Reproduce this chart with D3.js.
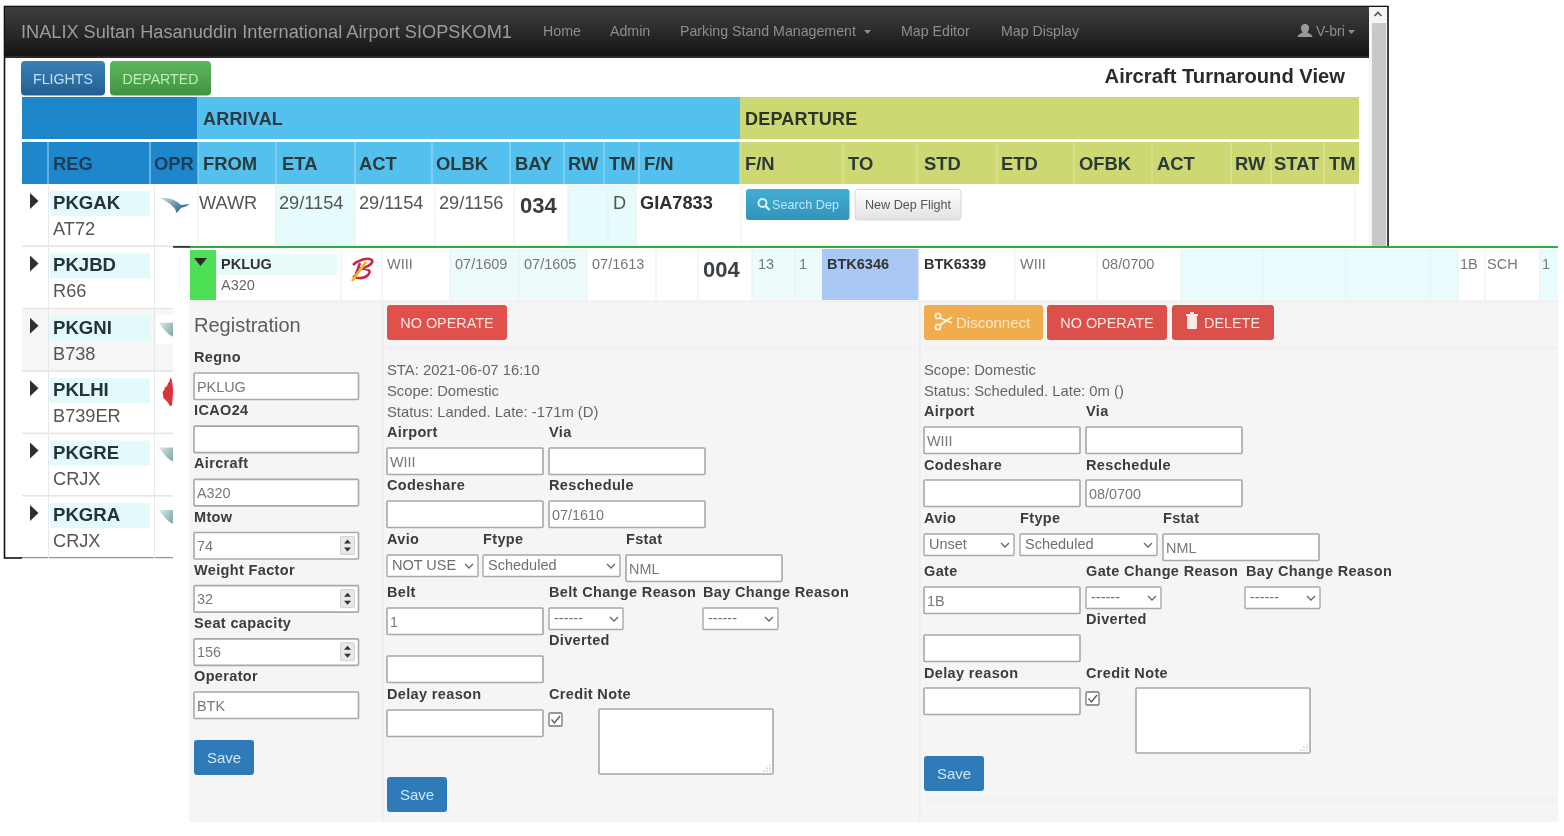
<!DOCTYPE html>
<html>
<head>
<meta charset="utf-8">
<script src="https://d3js.org/d3.v7.min.js"></script>
<style>
	html, body { margin: 0; padding: 0; background: #fff; }
	svg { display: block; filter: blur(0.35px); font-family: "Liberation Sans", Arial, sans-serif; }
</style>
</head>
<body>
<div id="chart-area"></div>
<script>

// Data

var brand = "INALIX Sultan Hasanuddin International Airport SIOPSKOM1";
var navLinks = ["Home", "Admin", "Parking Stand Management", "Map Editor", "Map Display"];
var userName = "V-bri";
var tabs = ["FLIGHTS", "DEPARTED"];
var viewTitle = "Aircraft Turnaround View";
var groupHeaders = ["ARRIVAL", "DEPARTURE"];
var columns = ["", "REG", "OPR", "FROM", "ETA", "ACT", "OLBK", "BAY", "RW", "TM", "F/N",
	"F/N", "TO", "STD", "ETD", "OFBK", "ACT", "RW", "STAT", "TM"];

var registrations = ["PKGAK", "PKJBD", "PKGNI", "PKLHI", "PKGRE", "PKGRA"];
var aircraftTypes = ["AT72", "R66", "B738", "B739ER", "CRJX", "CRJX"];
var firstRowValues = ["WAWR", "29/1154", "29/1154", "29/1156", "034", "", "D", "GIA7833"];
var firstRowButtons = ["Search Dep", "New Dep Flight"];

var openReg = "PKLUG";
var openType = "A320";
var openRowValues = ["WIII", "07/1609", "07/1605", "07/1613", "", "004", "13", "1", "BTK6346",
	"BTK6339", "WIII", "08/0700", "1B", "SCH", "1"];

var regTitle = "Registration";
var regLabels = ["Regno", "ICAO24", "Aircraft", "Mtow", "Weight Factor", "Seat capacity", "Operator"];
var regValues = ["PKLUG", "", "A320", "74", "32", "156", "BTK"];
var regSpinners = [false, false, false, true, true, true, false];

var arrInfo = ["STA: 2021-06-07 16:10", "Scope: Domestic", "Status: Landed. Late: -171m (D)"];
var depInfo = ["Scope: Domestic", "Status: Scheduled. Late: 0m ()"];

var arrLabels = ["Airport", "Via", "Codeshare", "Reschedule", "Avio", "Ftype", "Fstat", "Belt",
	"Belt Change Reason", "Bay Change Reason", "Diverted", "Delay reason", "Credit Note"];
var arrInputs = ["WIII", "", "", "07/1610", "NML", "1", "", ""];
var arrSelects = ["NOT USE", "Scheduled", "------", "------"];

var depLabels = ["Airport", "Via", "Codeshare", "Reschedule", "Avio", "Ftype", "Fstat", "Gate",
	"Gate Change Reason", "Bay Change Reason", "Diverted", "Delay reason", "Credit Note"];
var depInputs = ["WIII", "", "", "08/0700", "NML", "1B", "", ""];
var depSelects = ["Unset", "Scheduled", "------", "------"];

var buttonsArr = ["NO OPERATE"];
var buttonsDep = ["Disconnect", "NO OPERATE", "DELETE"];
var saveLabel = "Save";

// Layout scales

var width = 1564,
	height = 836;

var colEdge = d3.scaleOrdinal()
	.domain(d3.range(columns.length + 1))
	.range([22, 48, 150, 198, 276, 355, 432, 510, 564, 604, 639, 740, 843, 917, 997, 1074, 1152, 1231, 1271, 1324, 1359]);

var colText = d3.scaleOrdinal()
	.domain(d3.range(columns.length))
	.range([22, 53, 154, 203, 282, 359, 436, 515, 568, 609, 644, 745, 848, 924, 1001, 1079, 1157, 1235, 1274, 1329]);

var rowTop = d3.scaleLinear().domain([0, 5]).range([185, 497]);

var firstRowX = d3.scaleOrdinal().domain(d3.range(8)).range([199, 279, 359, 439, 520, 570, 613, 640]);

var openX = d3.scaleOrdinal()
	.domain(d3.range(openRowValues.length))
	.range([387, 455, 524, 592, 660, 703, 758, 799, 827, 924, 1020, 1102, 1460, 1487, 1542]);

var regTop = d3.scaleLinear().domain([0, 6]).range([373, 692]);

// Pixel positions of the form items, kept apart from the values above

var arrLabelAt = [[387, 437], [549, 437], [387, 490], [549, 490], [387, 544], [483, 544], [626, 544],
	[387, 597], [549, 597], [703, 597], [549, 645], [387, 699], [549, 699]];
var arrInputAt = [[387, 448], [549, 448], [387, 501], [549, 501], [626, 555], [387, 608], [387, 656], [387, 710]];
var arrSelectAt = [[387, 555, 91], [483, 555, 137], [549, 608, 74], [703, 608, 75]];

var depLabelAt = [[924, 416], [1086, 416], [924, 470], [1086, 470], [924, 523], [1020, 523], [1163, 523],
	[924, 576], [1086, 576], [1246, 576], [1086, 624], [924, 678], [1086, 678]];
var depInputAt = [[924, 427], [1086, 427], [924, 480], [1086, 480], [1163, 534], [924, 587], [924, 635], [924, 688]];
var depSelectAt = [[924, 534, 90], [1020, 534, 137], [1086, 587, 75], [1245, 587, 75]];

var svg = d3.select("#chart-area").append("svg")
	.attr("width", width)
	.attr("height", height);

var defs = svg.append("defs");

function gradient(id, top, bottom, x2, y2) {
	var g = defs.append("linearGradient").attr("id", id)
		.attr("x1", 0).attr("y1", 0)
		.attr("x2", x2 || 0).attr("y2", y2 === undefined ? 1 : y2);
	g.append("stop").attr("offset", "0%").attr("stop-color", top);
	g.append("stop").attr("offset", "100%").attr("stop-color", bottom);
}
gradient("navGrad", "#3f3f3f", "#141414");
gradient("blueTab", "#3a80b8", "#235f91");
gradient("greenTab", "#5cb85c", "#429142");
gradient("searchGrad", "#44add4", "#3093ba");
gradient("newGrad", "#ffffff", "#e2e2e2");
gradient("garudaGrad", "#d5dfe3", "#17607f", 1, 0.6);
gradient("wingGrad", "#dfeaea", "#86b0b0", 1, 0.6);

function box(x0, y0, x1, y1, fill, r, stroke, sw) {
	return svg.append("rect")
		.attr("x", x0).attr("y", y0)
		.attr("width", x1 - x0).attr("height", y1 - y0)
		.attr("rx", r || 0)
		.attr("fill", fill)
		.attr("stroke", stroke || "none")
		.attr("stroke-width", sw || 0);
}

function label(x, y, str, size, color, weight, spacing, anchor) {
	return svg.append("text")
		.attr("x", x).attr("y", y)
		.attr("font-size", size)
		.attr("fill", color)
		.attr("font-weight", weight || "normal")
		.attr("letter-spacing", spacing || 0)
		.attr("text-anchor", anchor || "start")
		.text(str);
}

function vline(x, y0, y1, color) {
	box(x - 0.5, y0, x + 0.5, y1, color);
}

function poly(d, fill) {
	return svg.append("path").attr("d", d).attr("fill", fill);
}

function formLabel(at, str) {
	label(at[0], at[1], str, 14.5, "#3c3c3c", "bold", 0.35);
}

function inputBox(x, y, w, h, val) {
	box(x, y, x + w, y + h, "#fff", 1, "#a8a8a8", 1.6);
	if (val) label(x + 3, y + 18.5, val, 14.4, "#777");
}

function selectBox(at, val) {
	box(at[0], at[1], at[0] + at[2], at[1] + 21.5, "#fff", 1, "#a8a8a8", 1.4);
	label(at[0] + 5, at[1] + 15, val, 14.5, "#6f6f6f");
	var cx = at[0] + at[2] - 9, cy = at[1] + 11;
	svg.append("path")
		.attr("d", "M" + (cx - 4) + "," + (cy - 2) + "L" + cx + "," + (cy + 2) + "L" + (cx + 4) + "," + (cy - 2))
		.attr("fill", "none").attr("stroke", "#666").attr("stroke-width", 1.3);
}

function checkBox(x, y) {
	box(x, y, x + 13, y + 13, "#fff", 1, "#777", 1.3);
	svg.append("path")
		.attr("d", "M" + (x + 2.5) + "," + (y + 6.5) + "L" + (x + 5.5) + "," + (y + 10) + "L" + (x + 11) + "," + (y + 3))
		.attr("fill", "none").attr("stroke", "#555").attr("stroke-width", 1.3);
}

function textArea(x, y, w, h) {
	box(x, y, x + w, y + h, "#fff", 1, "#a8a8a8", 1.6);
	svg.selectAll(null)
		.data([[9, 3], [6, 6], [3, 9], [9, 6], [6, 9], [9, 9]])
		.enter().append("circle")
		.attr("cx", function(d) { return x + w - 12 + d[0]; })
		.attr("cy", function(d) { return y + h - 12 + d[1]; })
		.attr("r", 0.6).attr("fill", "#888");
}

function spinner(x, y) {
	box(x, y, x + 14, y + 18, "#e8e8e8", 1, "#c8c8c8", 0.8);
	poly("M" + (x + 7) + "," + (y + 3) + "l3.5,4h-7z", "#333");
	poly("M" + (x + 7) + "," + (y + 15) + "l3.5,-4h-7z", "#333");
}

function actionButton(x0, x1, y0, str, fill) {
	box(x0, y0, x1, y0 + 35, fill, 3);
	label((x0 + x1) / 2, y0 + 23, str, 14.4, "#fde8e6", "normal", 0, "middle");
}

function saveButton(x, y) {
	box(x, y, x + 60, y + 35, "#2f7ab8", 3);
	label(x + 30, y + 23, saveLabel, 15, "#cfe6f7", "normal", 0, "middle");
}

// Browser window behind the open row

box(4.5, 6.5, 1388, 558, "#fff", 0, "#111", 1.6);

// Scrollbar
box(1369, 7, 1387, 246, "#f4f4f4");
box(1372, 23, 1386, 246, "#c8c8c8");
svg.append("path").attr("d", "M1374.5,16L1378,12.5L1381.5,16")
	.attr("fill", "none").attr("stroke", "#555").attr("stroke-width", 1.6);

// Navbar
box(5, 7, 1369, 57, "url(#navGrad)");
box(5, 56, 1369, 58, "#2a2a2a");
label(21, 38, brand, 18.18, "#9c9c9c");

var navX = d3.scaleOrdinal().domain(navLinks).range([543, 610, 680, 901, 1001]);
navLinks.forEach(function(d) {
	label(navX(d), 36, d, 14.2, "#8e8e8e");
});
poly("M864,30h7l-3.5,4z", "#8e8e8e");

// User glyph and dropdown caret
poly("M1305,24c3,0 4.5,2.5 4,5c-.3,1.6-1.2,2.8-1.6,3.6c1,1 5,1.6 5,4.4h-14.8c0-2.8 4-3.4 5-4.4c-.4-.8-1.3-2-1.6-3.6c-.5-2.5 1-5 4-5z", "#999");
label(1316, 36, userName, 14, "#8e8e8e");
poly("M1348,30h7l-3.5,4z", "#8e8e8e");

// Tabs and title
box(21, 61, 105, 95.5, "url(#blueTab)", 4);
label(63, 84, tabs[0], 14.2, "#bfe0f5", "normal", 0, "middle");
box(110, 61, 211, 95.5, "url(#greenTab)", 4);
label(160.5, 84, tabs[1], 14.2, "#bff0b8", "normal", 0, "middle");
label(1345, 83, viewTitle, 20.2, "#2b2b2b", "bold", 0, "end");

// Table header
box(22, 97, 197.5, 139, "#1e87cb");
box(197.5, 97, 740, 139, "#53c0ee");
box(740, 97, 1359, 139, "#cdd873");
label(203, 125, groupHeaders[0], 18, "#2c3a44", "bold", 0.2);
label(745, 125, groupHeaders[1], 18, "#2c3428", "bold", 0.2);

columns.forEach(function(d, i) {
	var x0 = colEdge(i), x1 = colEdge(i + 1);
	var fill = i < 3 ? "#1e87cb" : (i < 11 ? "#53c0ee" : "#cdd873");
	box(x0, 142, x1, 184, fill);
	if (i > 0) vline(x0, 142, 184, i < 11 ? "#a9dcf3" : "#dde5a6");
	if (d) label(colText(i), 169.5, d, 18.4, i < 3 ? "#1d3f55" : "#2c3a3c", "bold", 0);
});

// Table rows
registrations.forEach(function(d, i) {
	var top = rowTop(i);
	if (i === 2) box(22, top - 0.5, 1358, top + 62, "#f6f6f6");
	box(22, top + 60.5, 1358, top + 62, "#e4e4e4");
	vline(48.5, top, top + 62, "#e8e8e8");
	vline(154.5, top, top + 62, "#e8e8e8");
	box(50, top + 6, 150, top + 31, "#e3fafb");
	poly("M30," + (top + 8) + "l8.5,8l-8.5,8z", "#2f2f2f");
	label(53, top + 24, d, 18.6, "#263238", "bold");
	label(53, top + 50, aircraftTypes[i], 18.2, "#555");
	// Tail logo, clipped by the open row further along
	if (i > 1 && i !== 3) {
		box(156, top + 5, 173, top + 34, "#fff");
		poly("M159," + (top + 13) + "h14v14c-5,-2 -10,-8 -14,-14z", "url(#wingGrad)");
	}
	if (i === 3) {
		poly("M171," + (top + 5) + "c-2,3 -1,5 -3,6c-1,2 0,3 -3,4c-1,2 0,3 -2,4c-1,3 1,4 0,6c2,3 5,4 7,9l2,-1c1,-10 2,-18 -1,-28z", "#d9343c");
	}
});

// First row cells
box(275.5, 185, 355, 245, "#e6fbfc");
box(568, 185, 608, 245, "#e6fbfc");
box(608, 185, 636, 245, "#e6fbfc");
[198, 275.5, 355, 435, 514, 568, 608, 636, 741, 1355].forEach(function(x) {
	vline(x, 185, 245, "#eeeeee");
});
firstRowValues.forEach(function(d, i) {
	if (i === 4) label(firstRowX(i), 213, d, 22, "#3a3a3a", "bold");
	else if (i === 7) label(firstRowX(i), 209, d, 18.2, "#2f2f2f", "bold");
	else label(firstRowX(i), 209, d, 18.2, "#555");
});

// Garuda logo
poly("M160,198c8,-1 16,2 21,7c3,0 6,-1 9,-1c-3,2 -6,3 -9,4c-2,2 -3,4 -5,5c0,-3 -1,-5 -3,-6c-3,-4 -8,-6 -13,-9z", "url(#garudaGrad)");

// Search and new flight buttons
box(746, 189, 849.5, 220, "url(#searchGrad)", 3);
svg.append("circle").attr("cx", 762.5).attr("cy", 203).attr("r", 4).attr("fill", "none").attr("stroke", "#d6f0fa").attr("stroke-width", 2);
svg.append("path").attr("d", "M765.5,206l4,4").attr("stroke", "#d6f0fa").attr("stroke-width", 2.4);
label(772, 209, firstRowButtons[0], 12.7, "#bfe6f5");
box(855, 189.5, 961, 220, "url(#newGrad)", 3, "#d6d6d6", 1);
label(908, 209, firstRowButtons[1], 12.6, "#555", "normal", 0, "middle");

// Open row panel sits on top of the table
box(173, 246, 1564, 836, "#fff");
box(173, 246, 1558, 248, "#35a945");
box(173, 246, 190, 247.5, "#333");
box(189, 302, 1558, 822, "#f5f5f5");
box(382, 302, 383.5, 822, "#ececec");
box(919, 302, 920.5, 822, "#ececec");
box(189, 300.5, 1558, 302, "#ececec");

// Open row cells
box(190, 250, 216, 300, "#4de056");
poly("M194,258h13l-6.5,8z", "#2a2a2a");
box(216, 254, 337, 275, "#e8fbfb");
label(221, 269, openReg, 14.5, "#333", "bold");
label(221, 290, openType, 14.5, "#666");

box(450, 249, 587, 300, "#edfbfc");
box(752, 249, 822, 300, "#edfbfc");
box(822, 249, 918.5, 300, "#a9c8f5");
box(1181, 249, 1458, 300, "#e8fbfd");
box(1540, 249, 1558, 300, "#e8fbfd");
[341, 382, 450, 519, 587, 656, 698, 752, 795, 919, 1015, 1097, 1181, 1263, 1346, 1430, 1458, 1485, 1540].forEach(function(x) {
	vline(x, 249, 300, "#eeeeee");
});
openRowValues.forEach(function(d, i) {
	if (i === 5) label(openX(i), 277, d, 22, "#3a4248", "bold");
	else if (i === 8 || i === 9) label(openX(i), 269, d, 14.5, "#333", "bold");
	else label(openX(i), 269, d, 14.5, "#777");
});

// Batik logo
svg.append("path")
	.attr("d", "M353,265C358,260 368,257 372,260C374,264 365,268 360,269C368,268 372,271 368,275C364,279 357,279 353,276M360,263L355,277")
	.attr("fill", "none").attr("stroke", "#c9274f").attr("stroke-width", 2.6);
svg.append("path")
	.attr("d", "M366,262L352,281")
	.attr("fill", "none").attr("stroke", "#e8b820").attr("stroke-width", 2.6);

// Registration form
label(194, 332, regTitle, 20, "#5c5c5c");
regLabels.forEach(function(d, i) {
	var y = regTop(i);
	formLabel([194, y - 11], d);
	inputBox(194, y, 164.5, 26.5, regValues[i]);
	if (regSpinners[i]) spinner(340.5, y + 4);
});
saveButton(194, 740);

// Arrival form
actionButton(387, 507, 305, buttonsArr[0], "#e0504c");
box(387, 346, 915, 350, "#f1f1f1");
arrInfo.forEach(function(d, i) {
	label(387, 375 + i * 21, d, 14.8, "#666");
});
arrLabels.forEach(function(d, i) { formLabel(arrLabelAt[i], d); });
arrInputs.forEach(function(d, i) { inputBox(arrInputAt[i][0], arrInputAt[i][1], 156, 26.5, d); });
arrSelects.forEach(function(d, i) { selectBox(arrSelectAt[i], d); });
checkBox(549, 713);
textArea(599, 709, 174, 65);
saveButton(387, 777);

// Departure form
box(924, 305, 1043, 340, "#f0ad4e", 3);
label(956, 328, buttonsDep[0], 15, "#fbe8c8");
// Scissors glyph
svg.append("circle").attr("cx", 938).attr("cy", 316).attr("r", 2.6).attr("fill", "none").attr("stroke", "#fdf0d8").attr("stroke-width", 1.8);
svg.append("circle").attr("cx", 938).attr("cy", 327).attr("r", 2.6).attr("fill", "none").attr("stroke", "#fdf0d8").attr("stroke-width", 1.8);
svg.append("path").attr("d", "M940,318L952,323M940,325L952,317").attr("stroke", "#fdf0d8").attr("stroke-width", 1.8);
actionButton(1047, 1167, 305, buttonsDep[1], "#dc504c");
box(1172, 305, 1274, 340, "#dc504c", 3);
label(1204, 328, buttonsDep[2], 14.4, "#fde8e6");
// Trash glyph
box(1187, 316, 1197, 329, "#fde8e6", 1);
box(1186, 314, 1198, 316, "#fde8e6");
box(1190, 312, 1194, 314, "#fde8e6");
box(924, 346, 1558, 350, "#f1f1f1");
depInfo.forEach(function(d, i) {
	label(924, 375 + i * 21, d, 14.8, "#666");
});
depLabels.forEach(function(d, i) { formLabel(depLabelAt[i], d); });
depInputs.forEach(function(d, i) { inputBox(depInputAt[i][0], depInputAt[i][1], 156, 26.5, d); });
depSelects.forEach(function(d, i) { selectBox(depSelectAt[i], d); });
checkBox(1086, 692);
textArea(1136, 688, 174, 65);
saveButton(924, 756);
box(924, 798, 1558, 802, "#f1f1f1");

</script>
</body>
</html>
